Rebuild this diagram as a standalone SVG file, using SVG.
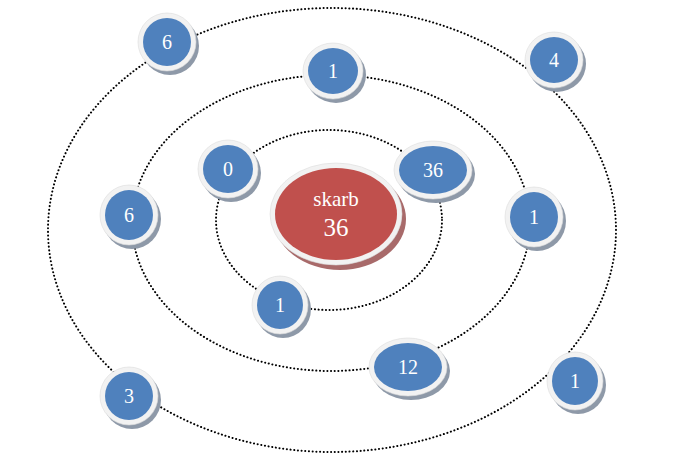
<svg xmlns="http://www.w3.org/2000/svg" width="684" height="468" viewBox="0 0 684 468">
<defs>
<style>
.orbit{fill:none;stroke:#000;stroke-width:2;stroke-dasharray:0.1 3.6;stroke-linecap:round}
.sh{fill:#8e99a8}
.shr{fill:#a86a6a}
.ring{fill:#f2f2f2;stroke:#dcdcdc;stroke-width:0.6}
.blue{fill:#4f81bd}
.red{fill:#c0504d}
.t{font-family:"Liberation Serif","DejaVu Serif",serif;fill:#ffffff;text-anchor:middle}
</style>
</defs>
<rect width="684" height="468" fill="#ffffff"/>
<g id="connectors">
<ellipse class="orbit" cx="332" cy="230" rx="284" ry="222"/>
<ellipse class="orbit" cx="331" cy="223" rx="199" ry="148"/>
<ellipse class="orbit" cx="329" cy="220" rx="113" ry="90"/>
</g>
<g id="center">
<ellipse class="shr" cx="340" cy="219" rx="66" ry="51"/>
<ellipse class="ring" cx="336" cy="214" rx="66" ry="51"/>
<ellipse class="red" cx="336" cy="214" rx="61" ry="46"/>
<text class="t" x="336" y="206" font-size="21">skarb</text>
<text class="t" x="336" y="236" font-size="25">36</text>
</g>
<g id="n6a">
<ellipse class="sh" cx="170" cy="46" rx="29" ry="29"/>
<ellipse class="ring" cx="167" cy="42" rx="29" ry="29"/>
<ellipse class="blue" cx="167" cy="42" rx="24" ry="24"/>
<text class="t" x="167" y="49" font-size="20">6</text>
</g>
<g id="n1a">
<ellipse class="sh" cx="336" cy="75" rx="30" ry="28"/>
<ellipse class="ring" cx="333" cy="71" rx="30" ry="28"/>
<ellipse class="blue" cx="333" cy="71" rx="25" ry="23"/>
<text class="t" x="333" y="78" font-size="20">1</text>
</g>
<g id="n4">
<ellipse class="sh" cx="557" cy="64" rx="29" ry="28"/>
<ellipse class="ring" cx="554" cy="60" rx="29" ry="28"/>
<ellipse class="blue" cx="554" cy="60" rx="24" ry="23"/>
<text class="t" x="554" y="67" font-size="20">4</text>
</g>
<g id="n0">
<ellipse class="sh" cx="231" cy="173" rx="30" ry="29"/>
<ellipse class="ring" cx="228" cy="169" rx="30" ry="29"/>
<ellipse class="blue" cx="228" cy="169" rx="25" ry="24"/>
<text class="t" x="228" y="176" font-size="20">0</text>
</g>
<g id="n36">
<ellipse class="sh" cx="436" cy="174" rx="39" ry="29"/>
<ellipse class="ring" cx="433" cy="170" rx="39" ry="29"/>
<ellipse class="blue" cx="433" cy="170" rx="34" ry="24"/>
<text class="t" x="433" y="177" font-size="20">36</text>
</g>
<g id="n6b">
<ellipse class="sh" cx="132" cy="219" rx="29" ry="30"/>
<ellipse class="ring" cx="129" cy="215" rx="29" ry="30"/>
<ellipse class="blue" cx="129" cy="215" rx="24" ry="25"/>
<text class="t" x="129" y="222" font-size="20">6</text>
</g>
<g id="n1b">
<ellipse class="sh" cx="537" cy="221" rx="29" ry="30"/>
<ellipse class="ring" cx="534" cy="217" rx="29" ry="30"/>
<ellipse class="blue" cx="534" cy="217" rx="24" ry="25"/>
<text class="t" x="534" y="224" font-size="20">1</text>
</g>
<g id="n1c">
<ellipse class="sh" cx="283" cy="309" rx="28" ry="29"/>
<ellipse class="ring" cx="280" cy="305" rx="28" ry="29"/>
<ellipse class="blue" cx="280" cy="305" rx="23" ry="24"/>
<text class="t" x="280" y="312" font-size="20">1</text>
</g>
<g id="n12">
<ellipse class="sh" cx="411" cy="371" rx="39" ry="29"/>
<ellipse class="ring" cx="408" cy="367" rx="39" ry="29"/>
<ellipse class="blue" cx="408" cy="367" rx="34" ry="24"/>
<text class="t" x="408" y="374" font-size="20">12</text>
</g>
<g id="n3">
<ellipse class="sh" cx="132" cy="400" rx="29" ry="29"/>
<ellipse class="ring" cx="129" cy="396" rx="29" ry="29"/>
<ellipse class="blue" cx="129" cy="396" rx="24" ry="24"/>
<text class="t" x="129" y="403" font-size="20">3</text>
</g>
<g id="n1d">
<ellipse class="sh" cx="578" cy="385" rx="28" ry="29"/>
<ellipse class="ring" cx="575" cy="381" rx="28" ry="29"/>
<ellipse class="blue" cx="575" cy="381" rx="23" ry="24"/>
<text class="t" x="575" y="388" font-size="20">1</text>
</g>
</svg>
